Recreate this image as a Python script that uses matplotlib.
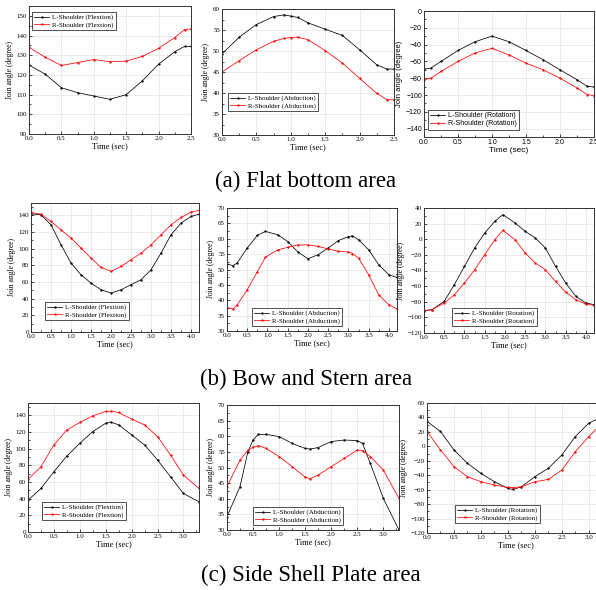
import numpy as np
import matplotlib
matplotlib.use("Agg")
import matplotlib.pyplot as plt
from matplotlib.ticker import MultipleLocator, AutoMinorLocator

W, H = 596, 590

# (a) Flat bottom area
t_a_flex = [0, 0.25, 0.5, 0.75, 1.0, 1.25, 1.5, 1.75, 2.0, 2.25, 2.4, 2.5]
a_flex_L = [125, 120.4, 113.5, 111, 109.3, 107.6, 110, 117, 125.5, 131.8, 134.5, 134.5]
a_flex_R = [134, 129, 124.8, 126.3, 127.8, 126.7, 127, 129.4, 133.5, 139, 143, 143.4]

t_a_abd = [0, 0.25, 0.5, 0.75, 0.9, 1.0, 1.1, 1.25, 1.5, 1.75, 2.0, 2.25, 2.4, 2.5]
a_abd_L = [49.3, 53.3, 56.3, 58.2, 58.6, 58.3, 58.0, 56.7, 55.2, 53.7, 50.3, 46.7, 45.7, 45.7]
a_abd_R = [45, 47.7, 50.3, 52.3, 53.0, 53.2, 53.3, 52.7, 50.1, 47.1, 43.5, 39.9, 38.4, 38.4]

t_a_rot = [0, 0.1, 0.25, 0.5, 0.75, 1.0, 1.25, 1.5, 1.75, 2.0, 2.25, 2.4, 2.5]
a_rot_L = [-69.2, -68, -60, -47, -36.6, -29.9, -36.6, -47, -58, -70, -81.8, -89.7, -90.4]
a_rot_R = [-81.8, -80, -72, -60, -50, -44.4, -52.3, -62, -70, -80, -91.6, -99.5, -100.7]

# (b) Bow and Stern area
t_b_flex = [0, 0.25, 0.5, 0.75, 1.0, 1.25, 1.5, 1.75, 2.0, 2.25, 2.5, 2.75, 3.0, 3.25, 3.5, 3.75, 4.0, 4.2]
b_flex_L = [142, 140.8, 128.8, 104.8, 82.8, 68.8, 58.8, 50.8, 46.8, 50.8, 56.8, 62.8, 74.8, 94.8, 116.8, 130.8, 138.8, 141.6]
b_flex_R = [143.6, 141.6, 132.8, 122.8, 112.8, 100.8, 88.8, 77.6, 72.8, 78.8, 86.8, 94.8, 104.8, 116.8, 128.8, 137.6, 144, 146]

t_b_abd = [0, 0.15, 0.25, 0.5, 0.75, 0.95, 1.25, 1.5, 1.75, 2.0, 2.25, 2.5, 2.75, 3.0, 3.1, 3.25, 3.5, 3.75, 4.0, 4.2]
b_abd_L = [51.7, 51.3, 52.1, 57, 61.1, 62.4, 61.3, 59.1, 55.7, 53.5, 54.8, 57, 59.4, 60.7, 60.9, 59.7, 56.4, 51.5, 48.3, 47.4]
b_abd_R = [37.6, 37.2, 38.5, 43.4, 49.3, 54, 56.4, 57.2, 58, 58, 57.5, 56.7, 55.9, 55.7, 55.2, 53.7, 48.3, 41.7, 38.5, 37.2]

t_b_rot = [0, 0.2, 0.5, 0.75, 1.0, 1.25, 1.5, 1.75, 1.95, 2.25, 2.5, 2.75, 3.0, 3.25, 3.5, 3.75, 4.0, 4.2]
b_rot_L = [-91.4, -90.1, -79.5, -58, -34.7, -11.2, 8, 23, 31.5, 20.8, 10.1, 1.6, -11.2, -34.7, -56, -73, -81.6, -83.7]
b_rot_R = [-91.4, -90, -81.6, -71, -56, -39, -19.7, -0.5, 11.4, -0.5, -17.6, -30.4, -39, -54, -67.6, -77.4, -83, -84.7]

# (c) Side Shell Plate area
t_c_flex = [0, 0.25, 0.5, 0.75, 1.0, 1.25, 1.5, 1.6, 1.75, 2.0, 2.25, 2.5, 2.75, 3.0, 3.3]
c_flex_L = [38.2, 52.3, 72.4, 91.3, 106.6, 120.7, 130.7, 132, 128.7, 116.7, 104.6, 86.5, 66.4, 46.3, 36.2]
c_flex_R = [63.2, 78.4, 104.6, 122.7, 131.6, 139.6, 144.8, 145.2, 143.6, 135.6, 128.7, 114.7, 92.5, 68.4, 52.3]

t_c_abd = [0, 0.25, 0.4, 0.5, 0.6, 0.75, 1.0, 1.25, 1.5, 1.6, 1.75, 2.0, 2.25, 2.5, 2.6, 2.75, 3.0, 3.3]
c_abd_L = [34.3, 43.9, 55, 58.8, 60.6, 60.6, 59.9, 57.7, 56.1, 55.9, 56.4, 58.3, 58.8, 58.6, 57.7, 51.3, 40.1, 30]
c_abd_R = [43.9, 52.4, 55.5, 56.5, 57, 56.1, 53.5, 50.3, 46.9, 46.4, 47.6, 50.3, 52.9, 55.6, 55.4, 53.5, 49.2, 40.1]

t_c_rot = [0, 0.25, 0.5, 0.75, 1.0, 1.25, 1.5, 1.6, 1.75, 2.0, 2.25, 2.5, 2.75, 3.0, 3.2]
c_rot_L = [34.5, 20.6, -4.9, -23.5, -37.4, -49, -58.3, -59.7, -56, -42, -30.4, -11.9, 13.6, 32.2, 39.1]
c_rot_R = [20.6, -4.9, -28.1, -42, -49, -53.6, -56.9, -57, -56, -49, -45.8, -32.8, -7.3, 13.6, 28.5]

captions = ["(a) Flat bottom area", "(b) Bow and Stern area", "(c) Side Shell Plate area"]

# panel: data, labels, axes box in px (left, right, top, bottom), xlim, ylim, ystep, legend (left, top)
panels = [
    (t_a_flex, a_flex_L, a_flex_R, "Flextion", (29, 191, 6, 134), 2.5, (90, 155), 10, (32, 12), "serif"),
    (t_a_abd, a_abd_L, a_abd_R, "Abduction", (222, 394, 9, 135), 2.5, (30, 60), 5, (228, 93), "serif"),
    (t_a_rot, a_rot_L, a_rot_R, "Rotation", (424, 594, 11, 137), 2.5, (-150, 0), 20, (428, 110), "sans-serif"),
    (t_b_flex, b_flex_L, b_flex_R, "Flextion", (31, 199, 203, 332), 4.2, (0, 155), 20, (45, 302), "serif"),
    (t_b_abd, b_abd_L, b_abd_R, "Abduction", (227, 397, 208, 331), 4.2, (30, 70), 5, (252, 308), "serif"),
    (t_b_rot, b_rot_L, b_rot_R, "Rotation", (424, 594, 208, 333), 4.2, (-120, 40), 20, (452, 308), "serif"),
    (t_c_flex, c_flex_L, c_flex_R, "Flextion", (28, 199, 403, 532), 3.3, (0, 155), 20, (42, 502), "serif"),
    (t_c_abd, c_abd_L, c_abd_R, "Abduction", (227, 399, 405, 530), 3.3, (30, 70), 5, (253, 507), "serif"),
    (t_c_rot, c_rot_L, c_rot_R, "Rotation", (427, 605, 403, 533), 3.3, (-120, 60), 20, (455, 505), "serif"),
]

fig = plt.figure(figsize=(W / 100, H / 100), dpi=100)

for t, yl, yr, kind, box, xmax, ylim, ystep, leg, fam in panels:
    font = "Liberation Serif" if fam == "serif" else "Liberation Sans"
    l, r, tp, b = box
    ax = fig.add_axes([l / W, 1 - b / H, (r - l) / W, (b - tp) / H])
    ax.plot(t, yl, color="black", lw=0.55, marker=".", ms=1.3, label="L-Shoulder (%s)" % kind)
    ax.plot(t, yr, color="red", lw=0.55, marker=".", ms=1.3, label="R-Shoulder (%s)" % kind)
    ax.set_xlim(0, xmax)
    ax.set_ylim(*ylim)
    ax.xaxis.set_major_locator(MultipleLocator(0.5))
    ax.yaxis.set_major_locator(MultipleLocator(ystep))
    ax.xaxis.set_minor_locator(AutoMinorLocator(2))
    ax.yaxis.set_minor_locator(AutoMinorLocator(2))
    ax.xaxis.set_major_formatter(matplotlib.ticker.FormatStrFormatter("%.1f"))
    ax.grid(True, color="#e3e3e3", lw=0.5)
    ax.set_axisbelow(True)
    ax.tick_params(which="both", direction="in", labelsize=5, pad=1.5, width=0.5)
    ax.tick_params(which="major", length=2.5)
    ax.tick_params(which="minor", length=1.5)
    for s in ax.spines.values():
        s.set_linewidth(0.7)
        s.set_color("#333333")
    for lab in ax.get_xticklabels() + ax.get_yticklabels():
        lab.set_fontfamily(font)
    ax.set_xlabel("Time (sec)", fontsize=6, family=font, labelpad=1)
    ax.set_ylabel("Join angle (degree)", fontsize=5.5, family=font, labelpad=2)
    lg = ax.legend(loc="upper left", bbox_to_anchor=(leg[0] / W, 1 - leg[1] / H),
                   bbox_transform=fig.transFigure, borderaxespad=0, fancybox=False,
                   prop={"family": font, "size": 5}, handlelength=2.2, borderpad=0.3,
                   labelspacing=0.2, handletextpad=0.4)
    lg.get_frame().set_edgecolor("black")
    lg.get_frame().set_linewidth(0.6)

cap_y = [181, 379, 575]
cap_x = [306, 306, 311]
for c, x, y in zip(captions, cap_x, cap_y):
    fig.text(x / W, 1 - y / H, c, ha="center", va="center", fontsize=16.5, family="Liberation Serif")

fig.savefig("out.png", dpi=100)
